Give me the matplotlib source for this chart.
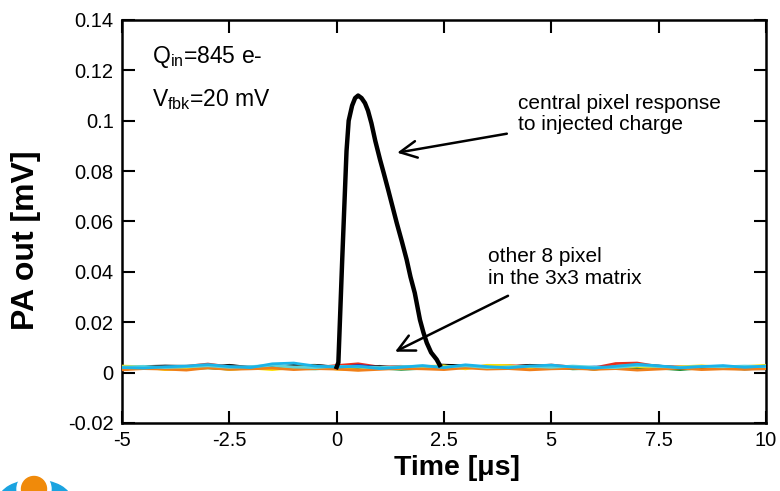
import matplotlib
matplotlib.use("Agg")
import matplotlib.pyplot as plt
from matplotlib.patches import Ellipse
import numpy as np

plt.rcParams['font.family'] = ['Liberation Sans', 'DejaVu Sans']
plt.rcParams['mathtext.fontset'] = 'custom'
plt.rcParams['mathtext.rm'] = 'Liberation Sans'

# ---------------- data (values in mV) ----------------
t_noise = [-5, -4.5, -4, -3.5, -3, -2.5, -2, -1.5, -1, -0.5, 0, 0.5, 1, 1.5, 2,
           2.5, 3, 3.5, 4, 4.5, 5, 5.5, 6, 6.5, 7, 7.5, 8, 8.5, 9, 9.5, 10]

# other 8 pixels (x1e-3 mV)
red    = [2.0, 1.9, 2.2, 2.5, 3.4, 2.3, 2.1, 2.6, 2.4, 2.0, 2.8, 3.5, 2.2, 2.5, 2.0, 2.3, 2.1, 2.6, 2.8, 2.4, 3.0, 2.2, 1.9, 3.6, 3.8, 2.4, 2.3, 2.0, 2.5, 2.2, 2.4]
blue   = [1.8, 2.0, 1.7, 2.2, 2.0, 1.9, 2.3, 2.1, 1.8, 2.2, 2.0, 2.8, 2.1, 1.9, 2.3, 2.0, 2.2, 1.8, 2.1, 2.4, 2.0, 1.7, 2.2, 2.1, 2.6, 2.0, 1.9, 2.3, 2.0, 1.8, 2.2]
green  = [1.5, 1.7, 2.0, 1.6, 1.9, 1.4, 1.8, 2.0, 1.7, 1.5, 1.9, 1.6, 1.8, 1.3, 1.7, 2.0, 2.6, 1.8, 1.6, 1.9, 2.3, 1.5, 1.7, 2.0, 1.6, 1.8, 1.2, 1.9, 1.7, 1.5, 1.8]
dark   = [1.3, 2.2, 2.5, 2.4, 2.0, 2.7, 1.9, 2.2, 2.6, 2.8, 2.1, 1.9, 2.5, 1.6, 2.0, 2.3, 2.6, 1.7, 2.3, 2.8, 2.4, 2.1, 1.5, 2.2, 2.7, 2.5, 1.8, 2.3, 2.0, 1.6, 1.5]
yellow = [2.6, 2.3, 1.2, 1.5, 2.4, 1.3, 1.8, 1.2, 2.0, 2.6, 1.4, 1.1, 1.7, 1.6, 2.4, 2.7, 1.5, 2.9, 2.8, 1.9, 2.6, 2.2, 1.4, 2.0, 2.5, 1.6, 2.3, 2.7, 2.1, 2.4, 2.9]
orange = [1.1, 1.6, 1.4, 1.0, 1.9, 1.3, 1.5, 1.8, 1.2, 1.6, 1.4, 0.9, 1.3, 1.7, 1.5, 1.2, 1.9, 1.4, 1.6, 1.1, 1.5, 1.7, 1.3, 1.6, 1.0, 1.4, 1.8, 1.2, 1.5, 1.3, 1.6]
teal   = [2.2, 2.5, 2.0, 2.3, 2.7, 2.1, 2.4, 2.9, 2.2, 2.0, 2.5, 2.3, 2.0, 2.4, 2.6, 2.2, 2.7, 2.0, 2.3, 2.5, 2.1, 2.6, 2.2, 2.0, 2.8, 2.4, 2.1, 2.5, 2.3, 2.6, 2.4]
cyan   = [2.0, 1.8, 2.3, 2.6, 3.2, 2.4, 2.0, 3.5, 3.8, 2.6, 2.2, 2.5, 1.6, 2.1, 2.8, 2.0, 3.1, 2.4, 1.9, 2.6, 3.0, 2.2, 1.8, 2.5, 3.3, 2.7, 1.9, 2.4, 2.8, 2.1, 2.6]
others = [red, blue, green, dark, yellow, orange, teal, cyan]
other_colors = ['#E8301C', '#1030C8', '#1A8A2A', '#333333', '#FFE000', '#F07E1A', '#5FD3D8', '#1CB4E8']

# central pixel: baseline before, pulse, baseline after (x1e-3 mV)
t_pre  = [-5, -4.5, -4, -3.5, -3, -2.5, -2, -1.5, -1, -0.5, 0.0]
v_pre  = [1.2, 2.4, 2.6, 2.5, 2.2, 2.9, 2.0, 2.1, 2.8, 2.9, 2.2]
t_pulse = [0.0, 0.04, 0.13, 0.23, 0.28, 0.36, 0.43, 0.50, 0.58, 0.66, 0.73, 0.81, 0.90, 1.01,
           1.10, 1.20, 1.30, 1.40, 1.52, 1.63, 1.72, 1.82, 1.94, 2.02, 2.10, 2.20, 2.33, 2.40]
v_pulse = [2.2, 4.0, 45, 88, 100, 106, 109, 110, 109, 107, 104, 99, 92, 84.6,
           79, 72.6, 66, 59.4, 52, 44.9, 38, 31.6, 21, 16, 11.8, 8, 5.2, 3.0]
t_post = [2.4, 3, 3.5, 4, 4.5, 5, 5.5, 6, 6.5, 7, 7.5, 8, 8.5, 9, 9.5, 10]
v_post = [3.0, 2.7, 1.8, 2.2, 2.9, 2.5, 2.0, 1.4, 2.3, 2.8, 2.6, 1.9, 2.4, 2.1, 1.5, 1.7]

x_ticks = [-5, -2.5, 0, 2.5, 5, 7.5, 10]
x_ticklabels = ['-5', '-2.5', '0', '2.5', '5', '7.5', '10']
y_ticks = [-0.02, 0, 0.02, 0.04, 0.06, 0.08, 0.1, 0.12, 0.14]
y_ticklabels = ['-0.02', '0', '0.02', '0.04', '0.06', '0.08', '0.1', '0.12', '0.14']

scale = 1e-3

# ---------------- figure ----------------
fig = plt.figure(figsize=(7.8, 4.91), dpi=100)
ax = fig.add_axes([0.1564, 0.1385, 0.8256, 0.8208])

ax.plot(t_pre, np.array(v_pre) * scale, color='black', lw=2.0, zorder=2)
ax.plot(t_post, np.array(v_post) * scale, color='black', lw=2.0, zorder=2)
for vals, c in zip(others, other_colors):
    ax.plot(t_noise, np.array(vals) * scale, color=c, lw=2.0, zorder=3)
ax.plot(t_pulse, np.array(v_pulse) * scale, color='black', lw=3.2, zorder=4,
        solid_joinstyle='round')

ax.set_xlim(-5, 10)
ax.set_ylim(-0.02, 0.14)
ax.set_xticks(x_ticks)
ax.set_xticklabels(x_ticklabels)
ax.set_yticks(y_ticks)
ax.set_yticklabels(y_ticklabels)
ax.tick_params(direction='in', top=True, right=True, length=9, width=1.5,
               labelsize=14.5)
ax.tick_params(axis='x', pad=6)
ax.tick_params(axis='y', pad=6)
for s in ax.spines.values():
    s.set_linewidth(1.8)

fig.text(457 / 780, 1 - 468 / 491, 'Time [\u03bcs]', ha='center', va='center',
         fontsize=20.5, fontweight='bold')
fig.text(26 / 780, 1 - 240 / 491, 'PA out [mV]', ha='center', va='center',
         rotation=90, fontsize=23, fontweight='bold')

ax.text(-4.30, 0.1254, r'Q$_{\mathregular{in}}$=845 e-', fontsize=16.5,
        ha='left', va='center')
ax.text(-4.30, 0.1084, r'V$_{\mathregular{fbk}}$=20 mV', fontsize=16.5,
        ha='left', va='center')

ax.annotate('central pixel response\nto injected charge', xy=(1.41, 0.0873),
            xytext=(4.22, 0.1026), fontsize=15, ha='left', va='center',
            linespacing=1.15,
            arrowprops=dict(arrowstyle='->,head_length=0.8,head_width=0.4',
                            color='black', lw=1.8, shrinkA=6, shrinkB=0))
ax.annotate('other 8 pixel\nin the 3x3 matrix', xy=(1.36, 0.0083),
            xytext=(3.53, 0.0417), fontsize=15, ha='left', va='center',
            linespacing=1.2,
            arrowprops=dict(arrowstyle='->,head_length=0.8,head_width=0.4',
                            color='black', lw=1.8, shrinkA=8, shrinkB=0))

# partial logo at bottom-left corner
def px(x, y):
    return (x / 780, 1 - y / 491)

fig.add_artist(Ellipse(px(35, 500), 72 / 780, 40 / 491, transform=fig.transFigure,
                       color='#1AA3E0', zorder=1))
fig.add_artist(Ellipse(px(34, 489), 34 / 780, 34 / 491, transform=fig.transFigure,
                       color='white', zorder=2))
fig.add_artist(Ellipse(px(34, 489), 25 / 780, 25 / 491, transform=fig.transFigure,
                       color='#F08A0A', zorder=3))

fig.savefig('out.png', dpi=100)
